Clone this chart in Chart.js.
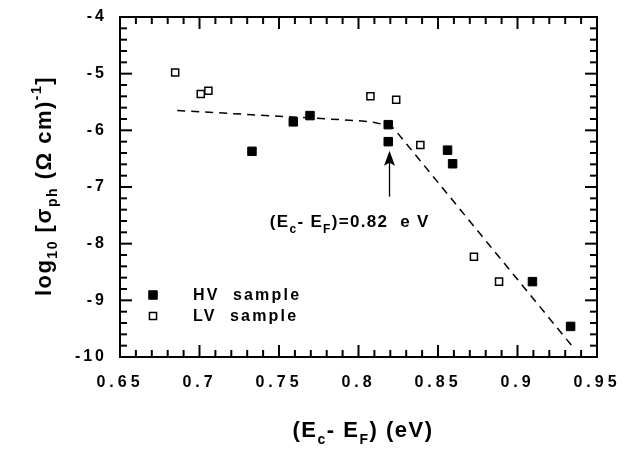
<!DOCTYPE html>
<html><head><meta charset="utf-8">
<script src="https://cdn.jsdelivr.net/npm/chart.js@4.4.1/dist/chart.umd.min.js"></script>
<style>html,body{margin:0;padding:0;background:#fff;}#wrap{width:631px;height:449px;}</style>
</head><body><div id="wrap"><canvas id="c" width="631" height="449"></canvas></div>
<script>
// ---- data ----
const hvX = [0.733, 0.759, 0.7695, 0.8187, 0.8187, 0.856, 0.8592, 0.9094, 0.9334];
const hvY = [-6.37, -5.85, -5.74, -5.90, -6.20, -6.35, -6.59, -8.67, -9.46];
const lvX = [0.6847, 0.7008, 0.7056, 0.8075, 0.8237, 0.8389, 0.8726, 0.8884];
const lvY = [-4.98, -5.36, -5.30, -5.40, -5.46, -6.26, -8.23, -8.67];
const fitX = [0.686, 0.80, 0.81, 0.816, 0.822, 0.935];
const fitY = [-5.65, -5.83, -5.86, -5.90, -5.96, -9.83];
const xTickValues = [0.65, 0.7, 0.75, 0.8, 0.85, 0.9, 0.95];
const yTickValues = [-10, -9, -8, -7, -6, -5, -4];
const xMinorStep = 0.01, yMinorStep = 0.2;
const arrowX = 0.8195, arrowFromY = -7.17, arrowToY = -6.36;
const noteX = 0.7945, noteY = -7.71;

const FONT = "'Liberation Sans', Arial, Helvetica, sans-serif";

function drawRuns(ctx, runs, x, y, spacing) {
  ctx.letterSpacing = spacing + 'px';
  let w = 0;
  for (const r of runs) { ctx.font = 'bold ' + r.size + 'px ' + FONT; w += ctx.measureText(r.t).width; }
  let cx = x - w / 2;
  for (const r of runs) {
    ctx.font = 'bold ' + r.size + 'px ' + FONT;
    ctx.fillText(r.t, cx, y + (r.dy || 0));
    cx += ctx.measureText(r.t).width;
  }
  ctx.letterSpacing = '0px';
}

const decor = {
  id: 'decor',
  afterUpdate(chart) {
    for (const [id, sp] of [['x', '4px'], ['y', '3px']]) {
      const s = chart.scales[id];
      if (s._lsWrapped) continue;
      const orig = s.drawLabels.bind(s);
      s.drawLabels = function (area) {
        const c = this.ctx; const prev = c.letterSpacing;
        c.letterSpacing = sp; orig(area); c.letterSpacing = prev;
      };
      s._lsWrapped = true;
    }
  },
  afterDraw(chart) {
    const { ctx, chartArea: a, scales: { x, y } } = chart;
    ctx.save();
    ctx.strokeStyle = '#000'; ctx.fillStyle = '#000'; ctx.lineWidth = 2;
    ctx.strokeRect(a.left, a.top, a.right - a.left, a.bottom - a.top);
    const seg = (x1, y1, x2, y2) => { ctx.beginPath(); ctx.moveTo(x1, y1); ctx.lineTo(x2, y2); ctx.stroke(); };
    const nx = Math.round((x.max - x.min) / xMinorStep);
    for (let i = 0; i <= nx; i++) {
      const px = x.getPixelForValue(x.min + i * xMinorStep);
      const len = i % 5 === 0 ? 12 : 7;
      seg(px, a.bottom, px, a.bottom - len); seg(px, a.top, px, a.top + len);
    }
    const ny = Math.round((y.max - y.min) / yMinorStep);
    for (let i = 0; i <= ny; i++) {
      const py = y.getPixelForValue(y.min + i * yMinorStep);
      const len = i % 5 === 0 ? 12 : 7;
      seg(a.left, py, a.left + len, py); seg(a.right, py, a.right - len, py);
    }
    // arrow
    const ax = x.getPixelForValue(arrowX), ay1 = y.getPixelForValue(arrowFromY), ay2 = y.getPixelForValue(arrowToY);
    ctx.lineWidth = 1.3;
    seg(ax, ay1, ax, ay2 + 10);
    ctx.beginPath(); ctx.moveTo(ax, ay2); ctx.lineTo(ax - 5.5, ay2 + 15); ctx.lineTo(ax, ay2 + 12); ctx.lineTo(ax + 5.5, ay2 + 15); ctx.closePath(); ctx.fill();
    // annotation
    ctx.textBaseline = 'alphabetic'; ctx.textAlign = 'left';
    drawRuns(ctx, [
      { t: '(E', size: 17 }, { t: 'c', size: 12, dy: 6 }, { t: '- E', size: 17 }, { t: 'F', size: 12, dy: 6 },
      { t: ')=0.82  e V', size: 17 }
    ], x.getPixelForValue(noteX), y.getPixelForValue(noteY), 1.3);
    // legend
    const lg = [{ ds: chart.data.datasets[1], y: 295 }, { ds: chart.data.datasets[2], y: 316 }];
    for (const it of lg) {
      const d = it.ds; const s = Math.SQRT2 * d.pointRadius;
      ctx.lineWidth = d.borderWidth; ctx.fillStyle = d.backgroundColor; ctx.strokeStyle = d.borderColor;
      ctx.beginPath(); ctx.rect(153 - s / 2, it.y - s / 2, s, s); ctx.fill(); ctx.stroke();
      ctx.fillStyle = '#000';
      ctx.font = 'bold 16px ' + FONT; ctx.letterSpacing = '2.2px';
      ctx.textBaseline = 'middle';
      ctx.fillText(d.label, 193, it.y + 1);
      ctx.letterSpacing = '0px';
    }
    // x title
    ctx.textBaseline = 'alphabetic';
    drawRuns(ctx, [
      { t: '(E', size: 22 }, { t: 'c', size: 14, dy: 7 }, { t: '- E', size: 22 }, { t: 'F', size: 14, dy: 7 },
      { t: ') (eV)', size: 22 }
    ], 363, 437, 1.5);
    // y title
    ctx.save();
    ctx.translate(51, 186); ctx.rotate(-Math.PI / 2);
    drawRuns(ctx, [
      { t: 'log', size: 22 }, { t: '10', size: 14, dy: 6 }, { t: ' [σ', size: 22 }, { t: 'ph', size: 14, dy: 6 },
      { t: ' (Ω cm)', size: 22 }, { t: '-1', size: 14, dy: -10 }, { t: ']', size: 22 }
    ], 0, 0, 1.5);
    ctx.restore();
    ctx.restore();
  }
};

const tickFont = { family: FONT, size: 16, weight: 'bold' };
new Chart(document.getElementById('c'), {
  type: 'scatter',
  data: {
    datasets: [
      { label: 'fit', type: 'line', data: fitX.map((v, i) => ({ x: v, y: fitY[i] })), borderColor: '#000', borderWidth: 1.5,
        borderDash: [8, 6], pointRadius: 0, fill: false, tension: 0, showLine: true, order: 3 },
      { label: 'HV  sample', data: hvX.map((v, i) => ({ x: v, y: hvY[i] })), pointStyle: 'rect', pointRadius: 6,
        backgroundColor: '#000', borderColor: '#000', borderWidth: 1, order: 1 },
      { label: 'LV  sample', data: lvX.map((v, i) => ({ x: v, y: lvY[i] })), pointStyle: 'rect', pointRadius: 5,
        backgroundColor: '#fff', borderColor: '#000', borderWidth: 1.5, order: 2 }
    ]
  },
  options: {
    responsive: false, animation: false, devicePixelRatio: 1,
    layout: { padding: { left: 0, right: 34, top: 17, bottom: 0 } },
    plugins: { legend: { display: false }, tooltip: { enabled: false } },
    scales: {
      x: {
        type: 'linear', min: 0.65, max: 0.95,
        afterBuildTicks(s) { s.ticks = xTickValues.map(v => ({ value: v })); },
        ticks: { font: tickFont, color: '#000', padding: 16, maxRotation: 0, autoSkip: false,
          callback: v => String(Number(v.toFixed(2))) },
        grid: { display: false, drawTicks: false }, border: { display: false },
        afterFit(s) { s.height = 92; s.paddingLeft = 0; s.paddingRight = 0; }
      },
      y: {
        type: 'linear', min: -10, max: -4,
        afterBuildTicks(s) { s.ticks = yTickValues.map(v => ({ value: v })); },
        ticks: { font: tickFont, color: '#000', padding: 13, callback: v => String(v) },
        grid: { display: false, drawTicks: false }, border: { display: false },
        afterFit(s) { s.width = 120; s.paddingTop = 0; s.paddingBottom = 0; }
      }
    }
  },
  plugins: [decor]
});
</script></body></html>
